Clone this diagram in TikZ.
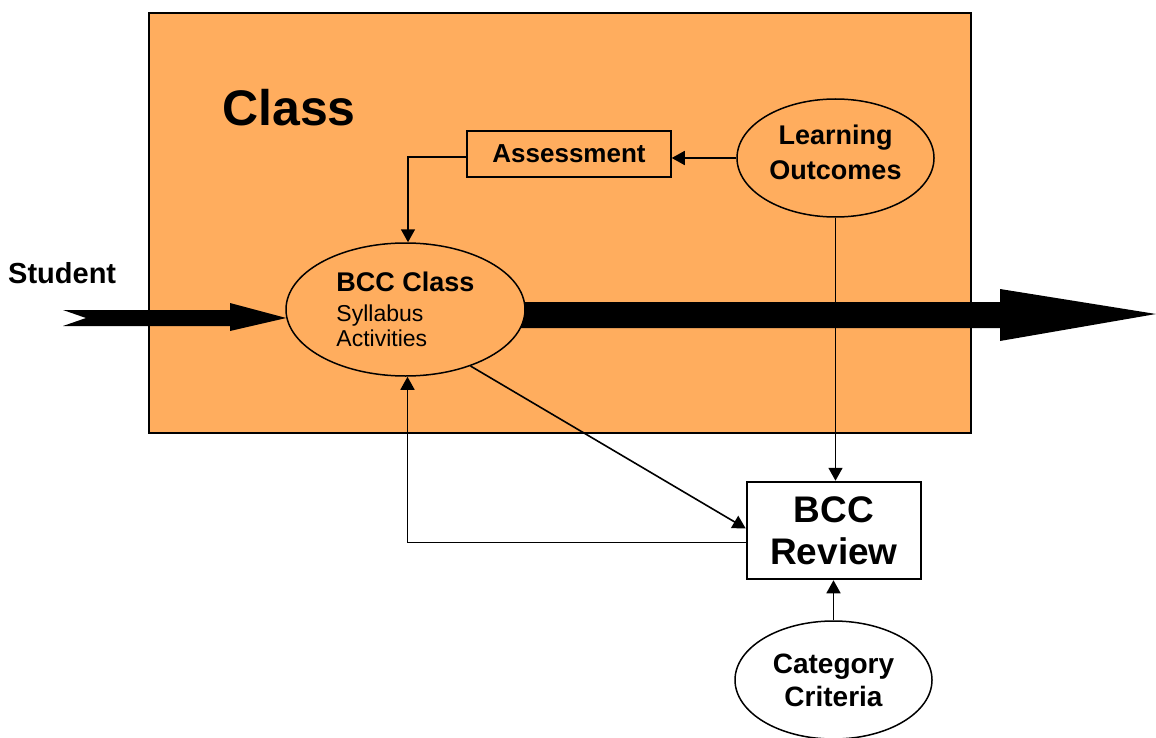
\documentclass[tikz,border=0pt]{standalone}
\usepackage{fontspec}
\setmainfont{Liberation Sans}
\usetikzlibrary{arrows.meta,shapes.geometric,calc}
\definecolor{classorange}{RGB}{255,173,94}
\pgfdeclarelayer{bg}
\pgfdeclarelayer{mid}
\pgfsetlayers{bg,mid,main}
\begin{document}
\begin{tikzpicture}[x=1pt,y=-1pt,
  conn/.style={line width=1.6pt,-{Triangle[length=13pt,width=14pt]}},
  ell/.style={ellipse,draw,line width=1.5pt,inner sep=0pt},
  bigarrow/.style={fill=black}
 ]
\useasboundingbox (0,0) rectangle (1156,738);
\begin{pgfonlayer}{bg}
\node[draw, line width=2pt, fill=classorange, minimum width=822pt, minimum height=420pt,
      inner sep=0pt, anchor=north west] (classbox) at (148,12) {};
\end{pgfonlayer}
\node[anchor=base west, inner sep=0pt, font=\bfseries\fontsize{50}{60}\selectfont] (classtitle) at (222,126) {Class};
\node[anchor=base west, inner sep=0pt, font=\bfseries\fontsize{29}{32}\selectfont] (student) at (8,283) {Student};

\node[ell, fill=classorange, minimum width=239pt, minimum height=133pt, align=left,
      font=\fontsize{23}{25}\selectfont] (bcc) at (405.5,309.5)
  {{\bfseries\fontsize{27}{30}\selectfont BCC Class}\\[5pt]Syllabus\\Activities};
\node[ell, fill=classorange, minimum width=197pt, minimum height=118pt, align=center,
      font=\bfseries\fontsize{27}{35}\selectfont] (lo) at (835.5,158) {Learning\\Outcomes\rule[-12pt]{0pt}{0pt}};
\node[ell, fill=white, minimum width=197pt, minimum height=118pt, align=center,
      font=\bfseries\fontsize{28}{33}\selectfont] (cat) at (833.5,680) {Category\\Criteria};
\node[draw, line width=1.5pt, fill=classorange, minimum width=204pt, minimum height=46pt, inner sep=0pt,
      font=\bfseries\fontsize{26}{30}\selectfont] (assess) at (569,154) {Assessment};
\node[draw, line width=2.5pt, fill=white, minimum width=174pt, minimum height=97pt, align=center,
      font=\bfseries\fontsize{37}{42}\selectfont] (review) at (834,530.5) {BCC\\Review};

\coordinate (studtail) at (63,310);
\begin{pgfonlayer}{mid}
\fill[bigarrow] (bcc.center |- 0,302) -- (1000,302) -- (1000,289) -- (1156,314) -- (1000,341) -- (1000,328) -- (bcc.center |- 0,328) -- cycle;
\end{pgfonlayer}
\fill[bigarrow] (studtail) -- (86,318) -- (63,326) -- (230,326) -- (230,331) -- ($(bcc.west)+(1,8.5)$) -- (230,303) -- (230,310) -- cycle;

\draw[conn] (lo.west) -- (lo.west -| assess.east);
\draw[conn] ([yshift=-3pt]assess.west) -| ([xshift=2.5pt]bcc.north);
\draw[conn] (lo.south) -- (lo.south |- review.north);
\draw[conn] (cat.north) -- (cat.north |- review.south);
\draw[conn] (bcc.-41) -- ([yshift=2pt]review.west);
\draw[conn] ([yshift=-12pt]review.west) -| ([xshift=2pt]bcc.south);
\end{tikzpicture}
\end{document}
